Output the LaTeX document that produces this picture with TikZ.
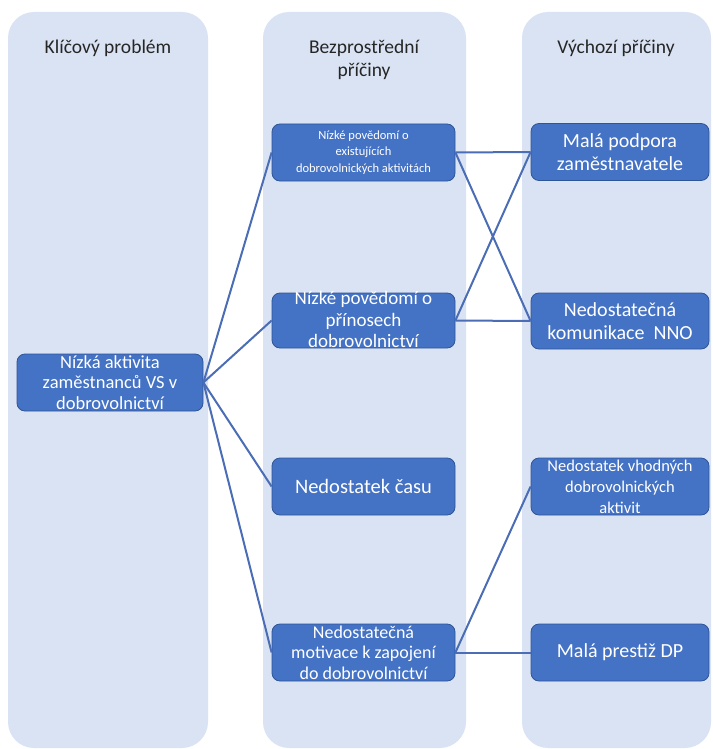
\documentclass[tikz,border=0pt]{standalone}
\usepackage{fontspec}
\setmainfont{Carlito}
\usepackage{tikz}
\usetikzlibrary{positioning}
\definecolor{lanebg}{HTML}{DAE3F3}
\definecolor{boxblue}{HTML}{4472C4}
\definecolor{boxedge}{HTML}{2F5597}
\definecolor{linkblue}{HTML}{4A6DB5}
\definecolor{headgray}{HTML}{262626}

\begin{document}
\begin{tikzpicture}[x=1pt,y=-1pt,
  lane/.style={fill=lanebg, rounded corners=26pt},
  cause/.style={draw=boxedge, fill=boxblue, line width=0.8pt,
                rounded corners=8pt, inner sep=0pt,
                minimum width=183pt, minimum height=57pt},
  root/.style={cause, minimum width=186pt, minimum height=57pt},
  origin/.style={cause, minimum width=178pt},
  txt/.style={text=white, align=center, inner sep=0pt},
  head/.style={text=headgray, align=center, anchor=base,
               font=\fontsize{19.5}{23}\selectfont},
  link/.style={draw=linkblue, line width=2pt}
]
  \useasboundingbox (0,0) rectangle (712,749);

  \fill[lane] (8,12) rectangle (208,748);
  \fill[lane] (263,12) rectangle (466,748);
  \fill[lane] (522,12) rectangle (711,748);

  \node[head] (h1) at (108,54) {Klíčový problém};
  \node[head] (h2) at (364,77) {Bezprostřední\\příčiny};
  \node[head] (h3) at (616,54) {Výchozí příčiny};

  \node[root] (K) at (110,382.5) {};
  \node[txt, font=\fontsize{18.5}{20.5}\selectfont] (Kt) at (K)
    {Nízká aktivita\\zaměstnanců VS v\\dobrovolnictví};

  \node[cause] (A) at (363.5,152.5) {};
  \node[txt, font=\fontsize{12.5}{16.5}\selectfont] (At) at (A)
    {Nízké povědomí o\\existujících\\dobrovolnických aktivitách};

  \node[cause, minimum height=55pt] (B) at (363.5,320.5) {};
  \node[txt, font=\fontsize{19}{21.5}\selectfont] (Bt) at ([yshift=1pt]B.center)
    {Nízké povědomí o\\přínosech\\dobrovolnictví};

  \node[cause] (C) at (363.5,486.5) {};
  \node[txt, font=\fontsize{20.5}{23}\selectfont] (Ct) at (C) {Nedostatek času};

  \node[cause] (D) at (363.5,652.5) {};
  \node[txt, font=\fontsize{18}{20.5}\selectfont] (Dt) at (D)
    {Nedostatečná\\motivace k zapojení\\do dobrovolnictví};

  \node[origin] (R1) at (620,152) {};
  \node[txt, font=\fontsize{20}{23}\selectfont] (R1t) at (R1)
    {Malá podpora\\zaměstnavatele};

  \node[origin, minimum height=56pt] (R2) at (620,321) {};
  \node[txt, font=\fontsize{20}{23}\selectfont] (R2t) at (R2)
    {Nedostatečná\\komunikace \ NNO};

  \node[origin] (R3) at (620,486.5) {};
  \node[txt, font=\fontsize{16.5}{21}\selectfont] (R3t) at (R3)
    {Nedostatek vhodných\\dobrovolnických\\aktivit};

  \node[origin] (R4) at (620,652.5) {};
  \node[txt, font=\fontsize{20}{23}\selectfont] (R4t) at (R4) {Malá prestiž DP};

  \draw[link] (K.east) -- (A.west);
  \draw[link] (K.east) -- (B.west);
  \draw[link] (K.east) -- (C.west);
  \draw[link] (K.east) -- (D.west);

  \draw[link] (A.east) -- (R1.west);
  \draw[link] (A.east) -- (R2.west);
  \draw[link] (B.east) -- (R1.west);
  \draw[link] (B.east) -- (R2.west);
  \draw[link] (D.east) -- (R3.west);
  \draw[link] (D.east) -- (R4.west);

\end{tikzpicture}
\end{document}
